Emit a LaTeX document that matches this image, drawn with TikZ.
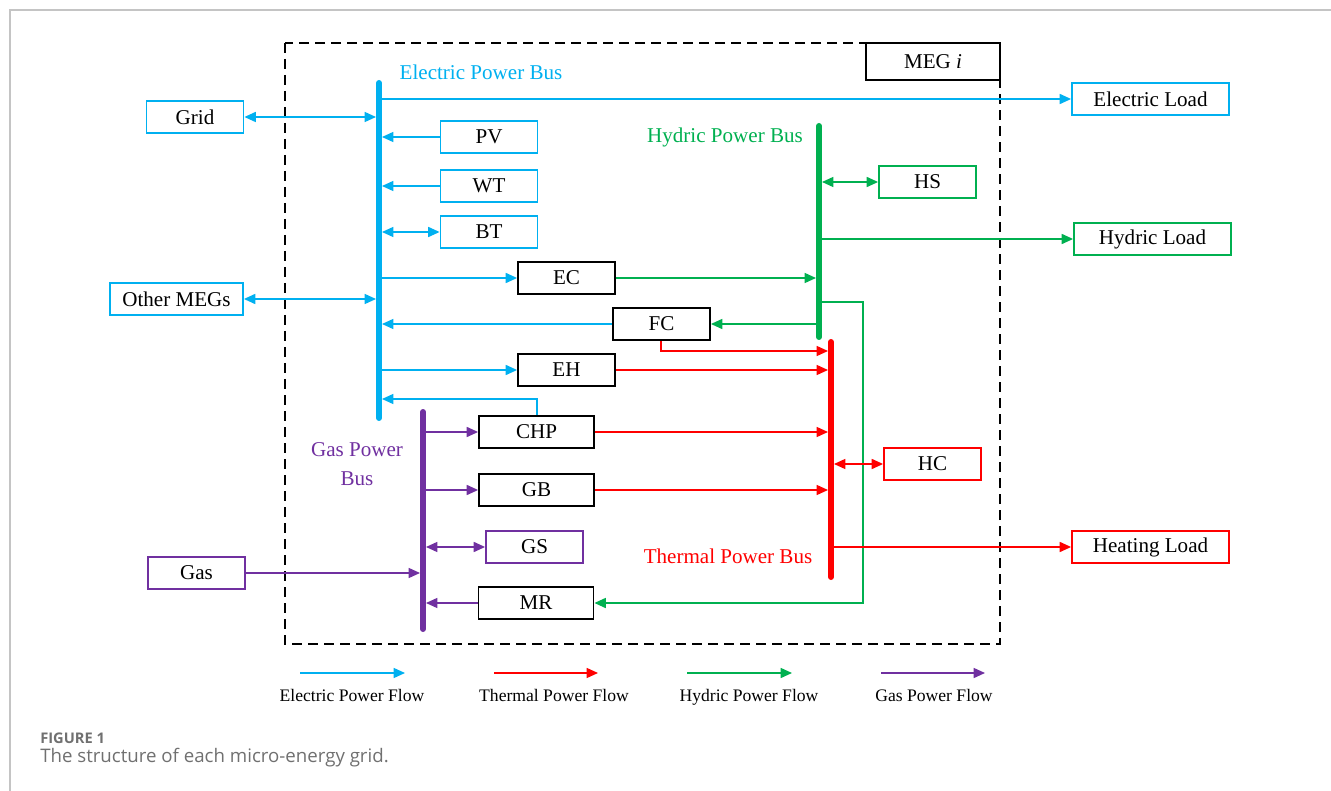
\documentclass[tikz,border=0pt]{standalone}
\usepackage{fontspec}
\setmainfont{Liberation Serif}
\newfontfamily\capfont{Open Sans}
\usetikzlibrary{arrows.meta}
\definecolor{eblue}{HTML}{00B0F0}
\definecolor{tred}{HTML}{FF0000}
\definecolor{hgreen}{HTML}{00B050}
\definecolor{gpurple}{HTML}{7030A0}
\definecolor{framegray}{HTML}{C4C4C4}
\definecolor{capgray}{HTML}{707070}
\begin{document}
\begin{tikzpicture}[x=0.75pt,y=-0.75pt,
  box/.style={draw,line width=1.4pt,inner sep=0pt,minimum width=72.75pt,minimum height=24pt,font=\fontsize{15.8}{18}\selectfont},
  bus/.style={line width=4.5pt,line cap=round},
  flow/.style={line width=1.1pt,-{Triangle[length=8.5pt,width=7.5pt]}},
  dflow/.style={line width=1.1pt,{Triangle[length=8.5pt,width=7.5pt]}-{Triangle[length=8.5pt,width=7.5pt]}},
  tobus/.style={shorten >=2.25pt},
  frombus/.style={shorten <=2.25pt},
  lbl/.style={font=\fontsize{15.8}{18}\selectfont,inner sep=0pt},
  leg/.style={font=\fontsize{13.2}{15}\selectfont,inner sep=0pt,anchor=base}
]
\useasboundingbox (0,0) rectangle (1331,791);
% page frame
\draw[framegray,line width=1.1pt] (1331,10) -- (10,10) -- (10,791);

% MEG boundary
\draw[line width=1.5pt,dash pattern=on 7.5pt off 4.5pt] (285,43) rectangle (1000,644);
\node[box,fill=white,minimum width=100.5pt,minimum height=27.75pt] (meg) at (933,61.5) {MEG \textit{i}};

% buses
\coordinate (ebT) at (379,83);  \coordinate (ebB) at (379,418);
\coordinate (hbT) at (819,126); \coordinate (hbB) at (819,337);
\coordinate (tbT) at (831,342); \coordinate (tbB) at (831,577);
\coordinate (gbT) at (423,412); \coordinate (gbB) at (423,629);
\draw[bus,eblue] (ebT) -- (ebB);
\draw[bus,hgreen] (hbT) -- (hbB);
\draw[bus,tred] (tbT) -- (tbB);
\draw[bus,gpurple] (gbT) -- (gbB);

\node[lbl,text=eblue] (eblbl) at (481,72) {Electric Power Bus};
\node[lbl,text=hgreen] (hblbl) at (725,137) {Hydric Power Bus};
\node[lbl,text=tred] (tblbl) at (728,556) {Thermal Power Bus};
\node[lbl,text=gpurple,align=center] (gblbl) at (357,464) {Gas Power\\[4pt]Bus};

% boxes
\node[box,draw=eblue] (grid) at (195,117) {Grid};
\node[box,draw=eblue,minimum width=99.75pt] (omeg) at (176.5,299) {Other MEGs};
\node[box,draw=eblue] (pv) at (489,137) {PV};
\node[box,draw=eblue] (wt) at (489,186) {WT};
\node[box,draw=eblue] (bt) at (489,232) {BT};
\node[box] (ec) at (566.5,278) {EC};
\node[box] (fc) at (661.5,324) {FC};
\node[box] (eh) at (566.5,370) {EH};
\node[box,minimum width=86.25pt] (chp) at (536.5,432) {CHP};
\node[box,minimum width=86.25pt] (gb) at (536.5,490) {GB};
\node[box,draw=gpurple] (gs) at (534.5,547) {GS};
\node[box,minimum width=86.25pt] (mr) at (536,603) {MR};
\node[box,draw=gpurple] (gas) at (196.5,573) {Gas};
\node[box,draw=hgreen] (hs) at (927.5,182) {HS};
\node[box,draw=tred] (hc) at (932.5,464) {HC};
\node[box,draw=eblue,minimum width=117.75pt] (eload) at (1150.5,99) {Electric Load};
\node[box,draw=hgreen,minimum width=117.75pt] (hload) at (1152.5,239) {Hydric Load};
\node[box,draw=tred,minimum width=117.75pt] (heat) at (1150.5,547) {Heating Load};

% electric flows
\draw[flow,eblue] (eload.west -| ebT) -- (eload.west);
\draw[dflow,eblue,tobus] (grid.east) -- (grid.east -| ebT);
\draw[flow,eblue,tobus] (pv.west) -- (pv.west -| ebT);
\draw[flow,eblue,tobus] (wt.west) -- (wt.west -| ebT);
\draw[dflow,eblue,frombus] (bt.west -| ebT) -- (bt.west);
\draw[flow,eblue] (ec.west -| ebT) -- (ec.west);
\draw[dflow,eblue,tobus] (omeg.east) -- (omeg.east -| ebT);
\draw[flow,eblue,tobus] (fc.west) -- (fc.west -| ebT);
\draw[flow,eblue] (eh.west -| ebT) -- (eh.west);
\coordinate (chpbend) at (537,399);
\draw[flow,eblue,tobus] (chp.north -| chpbend) -- (chpbend) -- (chpbend -| ebT);

% hydric flows
\draw[flow,hgreen,tobus] (ec.east) -- (ec.east -| hbT);
\draw[dflow,hgreen,frombus] (hs.west -| hbT) -- (hs.west);
\draw[flow,hgreen] (hload.west -| hbT) -- (hload.west);
\draw[flow,hgreen] (fc.east -| hbT) -- (fc.east);
\coordinate (mrA) at (819,302);
\coordinate (mrC) at (863,302);
\draw[flow,hgreen] (mrA) -- (mrC) |- (mr.east);

% thermal flows
\coordinate (fcb) at (661,351);
\draw[flow,tred,tobus] (fc.south -| fcb) |- (tbT |- fcb);
\draw[flow,tred,tobus] (eh.east) -- (eh.east -| tbT);
\draw[flow,tred,tobus] (chp.east) -- (chp.east -| tbT);
\draw[flow,tred,tobus] (gb.east) -- (gb.east -| tbT);
\draw[dflow,tred,frombus] (hc.west -| tbT) -- (hc.west);
\draw[flow,tred] (heat.west -| tbT) -- (heat.west);

% gas flows
\draw[flow,gpurple] (chp.west -| gbT) -- (chp.west);
\draw[flow,gpurple] (gb.west -| gbT) -- (gb.west);
\draw[dflow,gpurple,frombus] (gs.west -| gbT) -- (gs.west);
\draw[flow,gpurple,tobus] (mr.west) -- (mr.west -| gbT);
\draw[flow,gpurple,tobus] (gas.east) -- (gas.east -| gbT);

% legend
\coordinate (l1a) at (300,673); \coordinate (l1b) at (405,673);
\coordinate (l2a) at (494,673); \coordinate (l2b) at (598,673);
\coordinate (l3a) at (687,673); \coordinate (l3b) at (792,673);
\coordinate (l4a) at (881,673); \coordinate (l4b) at (985,673);
\draw[flow,eblue] (l1a) -- (l1b);
\draw[flow,tred] (l2a) -- (l2b);
\draw[flow,hgreen] (l3a) -- (l3b);
\draw[flow,gpurple] (l4a) -- (l4b);
\node[leg] (lt1) at (352,701) {Electric Power Flow};
\node[leg] (lt2) at (554,701) {Thermal Power Flow};
\node[leg] (lt3) at (749,701) {Hydric Power Flow};
\node[leg] (lt4) at (934,701) {Gas Power Flow};

% caption
\node[anchor=west,inner sep=0pt,text=capgray,font=\capfont\bfseries\fontsize{11}{13}\selectfont] (figno) at (40,738) {FIGURE 1};
\node[anchor=west,inner sep=0pt,text=capgray,font=\capfont\fontsize{14}{16}\selectfont] (cap) at (40,758) {The structure of each micro-energy grid.};
\end{tikzpicture}
\end{document}
